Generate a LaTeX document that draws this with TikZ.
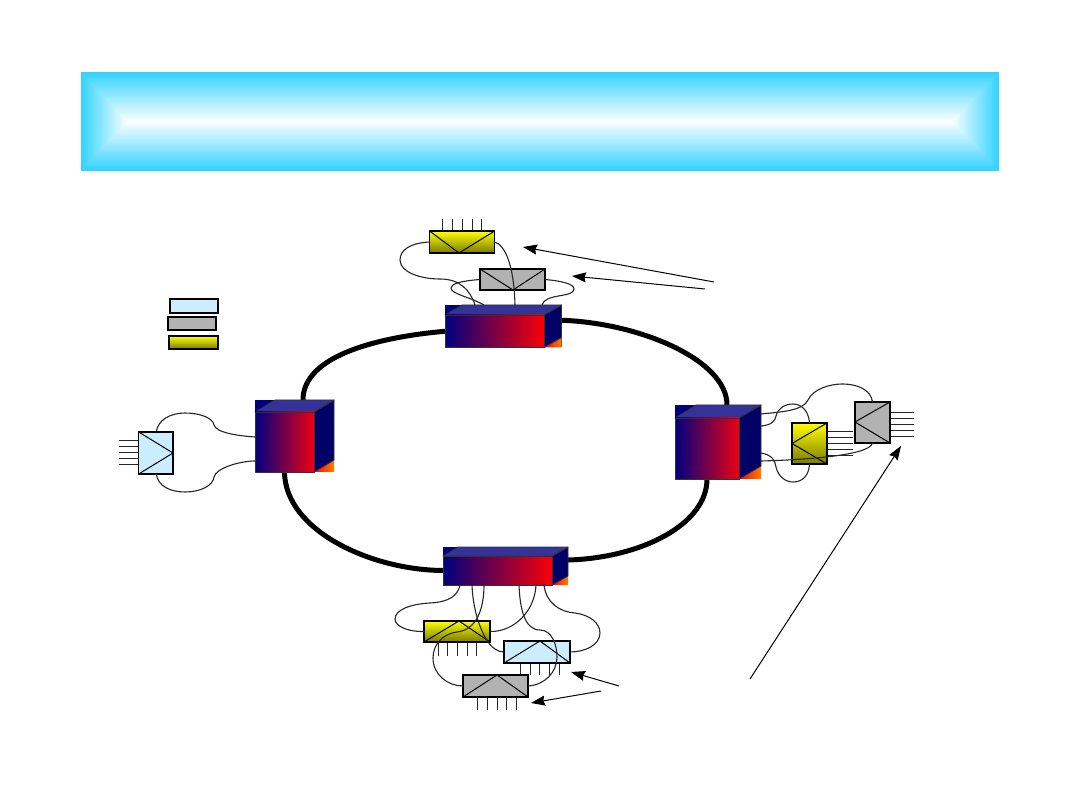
\documentclass[tikz,border=0pt]{standalone}
\usetikzlibrary{backgrounds,arrows.meta}
\definecolor{bannercyan}{HTML}{33D3FF}
\definecolor{paleblue}{HTML}{CCECFF}
\definecolor{midgray}{HTML}{B2B2B2}
\definecolor{oliveend}{HTML}{7A7A00}
\definecolor{cubenavy}{HTML}{000080}
\definecolor{cubeside}{HTML}{000066}
\definecolor{cubetop}{HTML}{333399}
\definecolor{cubemid}{HTML}{80007F}
\tikzset{
  plain/.style={inner sep=0pt,outer sep=0pt,anchor=north west,draw=black},
  bluebox/.style={plain,fill=paleblue,line width=1.2pt},
  graybox/.style={plain,fill=midgray,line width=1.2pt},
  yellowbox/.style={plain,top color=yellow,bottom color=oliveend,line width=1.2pt},
  muxline/.style={line width=1pt,black},
  portline/.style={line width=0.9pt,black!85},
  wire/.style={line width=1.1pt,black!85,line cap=round},
  ringline/.style={line width=5pt,black},
  callout/.style={line width=1pt,black,-{Stealth[length=14pt,width=10pt,inset=1.5pt]}},
  cubeedge/.style={draw=black!80,line width=0.9pt,line join=round}
}
% A shelf: front face named #1, with top and side faces and the corner pieces behind.
% #2 back left, #3 top-face left, #4 front right, #5 side right,
% #6 back top, #7 front top, #8 front bottom, #9 gradient end colour
\newcommand{\shelfbox}[9]{%
  \node[inner sep=0pt,outer sep=0pt,anchor=north west,fill=cubenavy,
        minimum width={(#5-#2)*1pt},minimum height={(#8-#6)*1pt}] (#1-back) at (#2,#6) {};
  \shade[left color=red,right color=orange] (#4,#8) -- (#5,#8) -- (#5,#8-#7+#6) -- cycle;
  \fill[cubeside] (#4,#7) -- (#5,#6) -- (#5,#8-#7+#6) -- (#4,#8) -- cycle;
  \draw[cubeedge] (#4,#7) -- (#5,#6) -- (#5,#8-#7+#6) -- (#4,#8);
  \filldraw[cubeedge,fill=cubetop] (#2,#7) -- (#3,#6) -- (#5,#6) -- (#4,#7) -- cycle;
  \node[inner sep=0pt,outer sep=0pt,anchor=north west,cubeedge,
        left color=cubenavy,middle color=cubemid,right color=#9,
        minimum width={(#4-#2)*1pt},minimum height={(#8-#7)*1pt}] (#1) at (#2,#7) {};
}
% A rectangular multiplexer box: #1 name, #2 style, #3 left, #4 top, #5 right, #6 bottom
\newcommand{\muxbox}[6]{%
  \node[#2,minimum width={(#5-#3)*1pt},minimum height={(#6-#4)*1pt}] (#1) at (#3,#4) {};
}
\begin{document}
\begin{tikzpicture}[x=1pt,y=-1pt]
\useasboundingbox (0,0) rectangle (1080,810);

% Title banner, stepped from the edge towards a white centre line
\foreach \i in {0,...,39}{
  \pgfmathsetmacro{\t}{\i/40}
  \pgfmathsetmacro{\p}{100*(1-\t)}
  \fill[bannercyan!\p!white] ({81+47*\t},{72+49.5*\t}) rectangle ({999-47*\t},{171-49.5*\t});
}

% Legend
\muxbox{legblue}{bluebox}{170}{299}{218}{313}
\muxbox{leggray}{graybox}{168}{317}{216}{330}
\muxbox{legyellow}{yellowbox}{169}{336}{218}{349}

% Ring nodes
\shelfbox{ct}{445}{462}{544}{561.5}{305}{315}{347.5}{red!90!purple}
\shelfbox{cl}{255}{275}{314}{334}{400}{412}{472}{red!70!purple}
\shelfbox{cr}{675}{696}{739}{761}{405}{418}{479}{red!70!purple}
\shelfbox{cb}{443}{458}{552}{568}{547}{556}{585}{red!90!purple}

% Ring spans
\begin{pgfonlayer}{background}
  \draw[ringline] (ct.west) .. controls (380,337) and (303,355) .. ([xshift=8.5pt]cl-back.north);
  \draw[ringline] ([yshift=6pt]ct-back.east) .. controls (640,323) and (727,360) .. ([xshift=9pt]cr-back.north);
  \draw[ringline] (cl.south) .. controls (285,530) and (370,570) .. (cb.west);
  \draw[ringline] (cr.south) .. controls (707,525) and (640,558) .. ([yshift=6pt]cb-back.east);
\end{pgfonlayer}

% Top station
\foreach \x in {13,22.5,32.5,42.5,51.5}
  \draw[portline] (429.5+\x,219) -- (429.5+\x,231);
\muxbox{ty}{yellowbox}{429.5}{231}{494.7}{253}
\draw[muxline] (ty.north west) -- (459,253) -- (ty.north east);
\muxbox{tg}{graybox}{480}{269}{545}{290}
\draw[muxline] (tg.north west) -- (513,290) -- (tg.north east);

% Left station
\foreach \y in {440,446,452,458,464}
  \draw[portline] (119,\y) -- (144,\y);
\muxbox{lb}{bluebox}{138.7}{432}{173}{474}
\draw[muxline] (lb.north west) -- (lb.east) -- (lb.south west);

% Right station
\foreach \y in {431,437,443,449,455}
  \draw[portline] (828,\y) -- (853,\y);
\muxbox{ry}{yellowbox}{792}{423}{827}{464}
\draw[muxline] (ry.north east) -- (ry.west) -- (ry.south east);
\foreach \y in {412,418,424,430,436}
  \draw[portline] (890,\y) -- (914,\y);
\muxbox{rg}{graybox}{855}{402}{890}{443}
\draw[muxline] (rg.north east) -- (855,422) -- (rg.south east);

% Bottom station
\foreach \x in {438,447,457,467,476}
  \draw[portline] (\x,642) -- (\x,656);
\muxbox{by}{yellowbox}{424}{621}{490}{642}
\draw[muxline] (by.south west) -- (459,621) -- (by.south east);
\foreach \x in {520,530,539,549,559}
  \draw[portline] (\x,663) -- (\x,675);
\muxbox{bb}{bluebox}{504}{641}{570}{663}
\draw[muxline] (bb.south west) -- (540,641) -- (bb.south east);
\foreach \x in {477,487,497,506,516}
  \draw[portline] (\x,697) -- (\x,710);
\muxbox{bg}{graybox}{463}{675}{528}{697}
\draw[muxline] (bg.south west) -- (497,675) -- (bg.south east);

% Fibre jumpers, top station
\draw[wire] (ty.west) .. controls (410,243) and (400,250) .. (400,260)
  .. controls (400,272) and (420,279) .. (440,279)
  .. controls (460,279) and (470,290) .. ([xshift=30pt]ct-back.north west);
\draw[wire] (ty.east) .. controls (505,245) and (514,265) .. ([xshift=70pt]ct-back.north west);
\draw[wire] (tg.west) .. controls (460,281) and (451,284) .. (451,288)
  .. controls (451,294) and (470,297) .. ([xshift=39pt]ct-back.north west);
\draw[wire] (tg.east) .. controls (562,281) and (574,284) .. (574,289)
  .. controls (574,298) and (545,293) .. ([xshift=97pt]ct-back.north west);

% Fibre jumpers, left station
\draw[wire] ([xshift=17.5pt]lb.north west) .. controls (158,420) and (170,413) .. (185,413)
  .. controls (200,413) and (213,418) .. (214,425)
  .. controls (216,433) and (240,436) .. ([yshift=5pt]cl.west);
\draw[wire] ([xshift=17.5pt]lb.south west) .. controls (158,486) and (170,492) .. (185,492)
  .. controls (200,492) and (213,486) .. (214,477)
  .. controls (216,468) and (240,461) .. ([yshift=-19pt]cl.west);

% Fibre jumpers, right station
\draw[wire] ([yshift=28pt]cr-back.east) .. controls (780,412) and (803,411) .. (808,400)
  .. controls (813,389) and (830,384) .. (842,384)
  .. controls (858,384) and (871,390) .. (rg.north);
\draw[wire] ([yshift=16pt]cr-back.east) .. controls (772,425) and (775,421) .. (776,416)
  .. controls (778,408) and (785,404) .. (793,404)
  .. controls (803,404) and (809,413) .. (ry.north);
\draw[wire] ([yshift=-11pt]cr-back.east) .. controls (772,455) and (775,460) .. (776,467)
  .. controls (778,476) and (785,482) .. (793,482)
  .. controls (803,482) and (809,475) .. (ry.south);
\draw[wire] ([yshift=-19pt]cr-back.east) .. controls (800,460) and (870,456) .. (rg.south);

% Fibre jumpers, bottom station
\draw[wire] ([xshift=17pt]cb.south west) .. controls (458,595) and (450,602) .. (430,603)
  .. controls (410,604) and (395,610) .. (395,619)
  .. controls (395,627) and (410,632) .. (by.west);
\draw[wire] ([xshift=29pt]cb.south west) .. controls (473,610) and (480,630) .. (488,642)
  .. controls (492,648) and (498,652) .. (bb.west);
\draw[wire] ([xshift=41pt]cb.south west) .. controls (484,610) and (476,630) .. (457,632)
  .. controls (442,634) and (433,645) .. (433,658)
  .. controls (433,675) and (448,686) .. (bg.west);
\draw[wire] ([xshift=76pt]cb.south west) .. controls (520,610) and (525,630) .. (540,630)
  .. controls (552,630) and (557,645) .. (557,657)
  .. controls (557,672) and (545,685) .. (bg.east);
\draw[wire] ([xshift=93pt]cb.south west) .. controls (535,610) and (515,632) .. (by.east);
\draw[wire] ([xshift=101pt]cb.south west) .. controls (546,603) and (560,612) .. (575,613)
  .. controls (590,615) and (600,623) .. (600,633)
  .. controls (600,645) and (585,652) .. (bb.east);

% Callout arrows
\coordinate (tailA) at (714,282);
\coordinate (tipA) at (523,247);
\coordinate (tailB) at (705,289);
\coordinate (tipB) at (572,276);
\coordinate (tailC) at (750,679);
\coordinate (tipC) at (901,446);
\coordinate (tailD) at (619,686);
\coordinate (tipD) at (571,672);
\coordinate (tailE) at (601,691);
\coordinate (tipE) at (531,703);
\draw[callout] (tailA) -- (tipA);
\draw[callout] (tailB) -- (tipB);
\draw[callout] (tailC) -- (tipC);
\draw[callout] (tailD) -- (tipD);
\draw[callout] (tailE) -- (tipE);
\end{tikzpicture}
\end{document}
